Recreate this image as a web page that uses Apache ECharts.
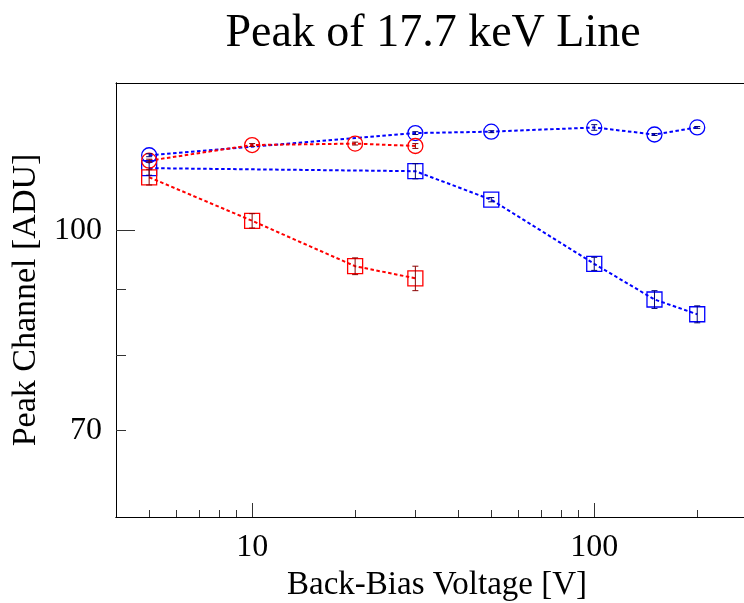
<!DOCTYPE html>
<html>
<head>
<meta charset="utf-8">
<script src="https://cdn.jsdelivr.net/npm/echarts@6/dist/echarts.min.js"></script>
<style>
  html, body { margin: 0; padding: 0; background: #fff; }
  #chart { width: 744px; height: 603px; }
</style>
</head>
<body>
<div id="chart"></div>
<script>
// Back-bias voltage points [V]
const voltsBlue = [5, 30, 50, 100, 150, 200];
const voltsRed = [5, 10, 20, 30];

// Peak channel [ADU] and uncertainties
const blueCircle = [114.3, 118.9, 119.2, 120.1, 118.6, 120.1];
const blueCircleErr = [0.3, 0.3, 0.2, 0.6, 0.2, 0.2];
const blueSquare = [111.7, 111.1, 105.6, 94.2, 88.4, 86.1];
const blueSquareErr = [1.4, 1.5, 0.4, 1.1, 1.4, 1.3];
const redCircle = [113.2, 116.4, 116.7, 116.2];
const redCircleErr = [0.3, 0.3, 0.3, 0.5];
const redSquare = [109.9, 101.7, 93.8, 91.8];
const redSquareErr = [1.5, 1.3, 1.4, 2.0];

// Axis ticks
const xMajorTicks = [10, 100];
const xMinorTicks = [5, 6, 7, 8, 9, 20, 30, 40, 50, 60, 70, 80, 90, 200];
const yLabelTicks = [70, 100];
const yMajorTicks = [100];
const yMinorTicks = [70, 80, 90];

const FONT = '"Liberation Serif", "DejaVu Serif", serif';
const BLUE = '#0000ff';
const RED = '#ff0000';

const pairs = (xs, ys) => xs.map((x, i) => [x, ys[i]]);
const triples = (xs, ys, es) => xs.map((x, i) => [x, ys[i], es[i]]);

function lineSeries(name, xs, ys, color, symbol) {
  return {
    name, type: 'line', xAxisIndex: 0, yAxisIndex: 0,
    data: pairs(xs, ys),
    symbol, symbolSize: 15,
    lineStyle: { color, width: 2, type: [3.5, 2.5] },
    itemStyle: { color: 'rgba(0,0,0,0)', borderColor: color, borderWidth: 1.3 },
    emphasis: { disabled: true },
    z: 3
  };
}

function errorSeries(xs, ys, es, color) {
  return {
    type: 'custom', xAxisIndex: 0, yAxisIndex: 0,
    data: triples(xs, ys, es),
    encode: { x: 0, y: 1 },
    z: 5,
    renderItem(params, api) {
      const x = api.value(0), y = api.value(1), e = api.value(2);
      const hi = api.coord([x, y + e]);
      const lo = api.coord([x, y - e]);
      const cap = 3;
      const style = { stroke: color, lineWidth: 1 };
      return {
        type: 'group',
        children: [
          { type: 'line', shape: { x1: hi[0], y1: hi[1], x2: lo[0], y2: lo[1] }, style },
          { type: 'line', shape: { x1: hi[0] - cap, y1: hi[1], x2: hi[0] + cap, y2: hi[1] }, style },
          { type: 'line', shape: { x1: lo[0] - cap, y1: lo[1], x2: lo[0] + cap, y2: lo[1] }, style }
        ]
      };
    }
  };
}

// The frame runs off the right edge of the page, so the x range ends there.
const X_MIN = 4, X_MAX = 274, Y_MIN = 60, Y_MAX = 130;

const baseX = {
  type: 'log', logBase: 10, min: X_MIN, max: X_MAX, position: 'bottom',
  axisLine: { show: true, onZero: false, lineStyle: { color: '#000', width: 1 } },
  splitLine: { show: false }, minorTick: { show: false }
};
const baseY = {
  type: 'log', logBase: 10, min: Y_MIN, max: Y_MAX, position: 'left',
  axisLine: { show: true, onZero: false, lineStyle: { color: '#000', width: 1 } },
  splitLine: { show: false }, minorTick: { show: false }
};

const chart = echarts.init(document.getElementById('chart'), null, { renderer: 'canvas' });
chart.setOption({
  animation: false,
  backgroundColor: '#fff',
  title: {
    text: 'Peak of 17.7 keV Line',
    left: 428, top: 6, textAlign: 'center',
    textStyle: { fontFamily: FONT, fontSize: 46, fontWeight: 'normal', color: '#000' }
  },
  grid: { left: 116, top: 83, right: 0, bottom: 86, show: false, outerBoundsMode: 'none', containLabel: false },
  xAxis: [
    Object.assign({}, baseX, {
      name: 'Back-Bias Voltage [V]', nameLocation: 'middle', nameGap: 45,
      nameTextStyle: { fontFamily: FONT, fontSize: 33, color: '#000', padding: [0, 0, 0, 14] },
      axisTick: { show: true, inside: true, length: 14, customValues: xMajorTicks, lineStyle: { color: '#333', width: 1 } },
      axisLabel: { show: true, customValues: xMajorTicks, margin: 15, fontFamily: FONT, fontSize: 32, color: '#000' }
    }),
    Object.assign({}, baseX, {
      axisTick: { show: true, inside: true, length: 7, customValues: xMinorTicks, lineStyle: { color: '#333', width: 1 } },
      axisLabel: { show: false }
    }),
    // top edge of the frame
    Object.assign({}, baseX, {
      position: 'top',
      axisTick: { show: false }, axisLabel: { show: false }
    })
  ],
  yAxis: [
    Object.assign({}, baseY, {
      name: 'Peak Channel [ADU]', nameLocation: 'middle', nameGap: 72, nameRotate: 90,
      nameTextStyle: { fontFamily: FONT, fontSize: 34, color: '#000' },
      axisTick: { show: true, inside: true, length: 19, customValues: yMajorTicks, lineStyle: { color: '#333', width: 1 } },
      axisLabel: { show: true, customValues: yLabelTicks, margin: 14, fontFamily: FONT, fontSize: 32, color: '#000' }
    }),
    Object.assign({}, baseY, {
      axisTick: { show: true, inside: true, length: 10, customValues: yMinorTicks, lineStyle: { color: '#333', width: 1 } },
      axisLabel: { show: false }
    })
  ],
  series: [
    lineSeries('blue-circle', voltsBlue, blueCircle, BLUE, 'circle'),
    lineSeries('blue-square', voltsBlue, blueSquare, BLUE, 'rect'),
    lineSeries('red-circle', voltsRed, redCircle, RED, 'circle'),
    lineSeries('red-square', voltsRed, redSquare, RED, 'rect'),
    errorSeries(voltsBlue, blueCircle, blueCircleErr, '#00007a'),
    errorSeries(voltsBlue, blueSquare, blueSquareErr, '#00007a'),
    errorSeries(voltsRed, redCircle, redCircleErr, '#8a0000'),
    errorSeries(voltsRed, redSquare, redSquareErr, '#8a0000')
  ]
});
</script>
</body>
</html>
